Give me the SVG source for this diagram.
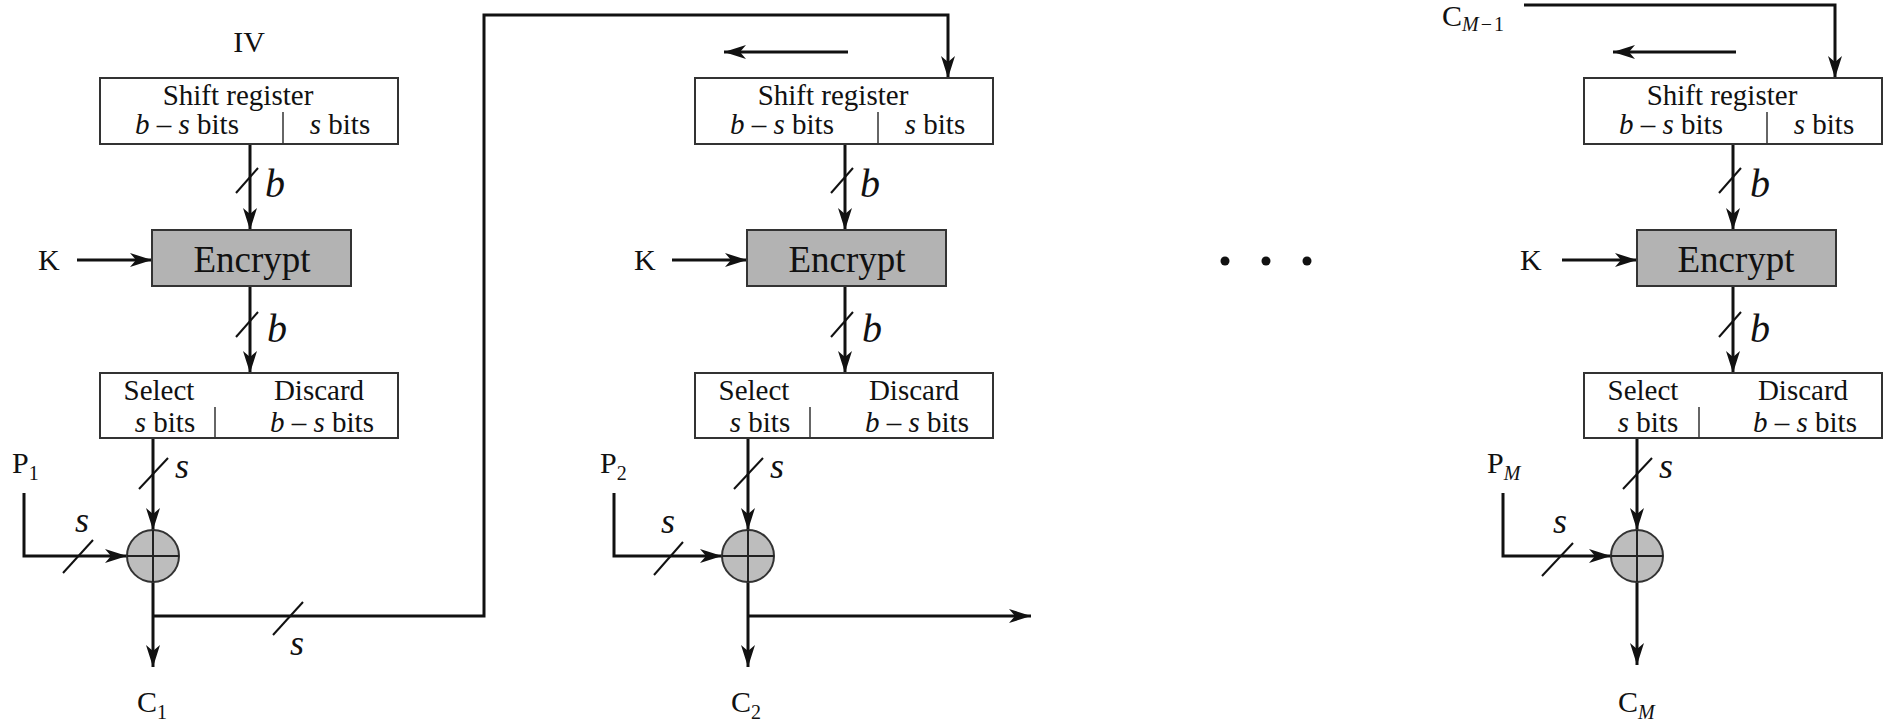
<svg xmlns="http://www.w3.org/2000/svg" width="1885" height="720" viewBox="0 0 1885 720">
<style>
.bx{fill:#fff;stroke:#333;stroke-width:2}
.enc{fill:#b3b3b3;stroke:#333;stroke-width:2}
.xor{fill:#bdbdbd;stroke:#333;stroke-width:2}
.dv{stroke:#333;stroke-width:1.5}
.ar{fill:none;stroke:#111;stroke-width:3;marker-end:url(#ah)}
.sl{stroke:#111;stroke-width:2}
.cr{stroke:#222;stroke-width:2}
text{font-family:"Liberation Serif","Times New Roman",serif;fill:#111}
.t{font-size:29px;text-anchor:middle}
.e{font-size:37px;text-anchor:middle}
.lb{font-size:30px}
.bl{font-size:40px;font-style:italic}
.sv{font-size:36px;font-style:italic}
.sub{font-size:20px}
.it{font-style:italic}
</style>
<defs>
<marker id="ah" markerUnits="userSpaceOnUse" markerWidth="22" markerHeight="14" refX="22" refY="7" orient="auto">
<path d="M0,0 L22,7 L0,14 L6,7 z" fill="#111"/>
</marker>
</defs>

<g id="connectors">
<!-- column 1 -->
<line class="ar" x1="77" y1="260" x2="152" y2="260"/>
<line class="ar" x1="250" y1="144" x2="250" y2="230"/>
<line class="sl" x1="236" y1="193" x2="258" y2="168"/>
<line class="ar" x1="250" y1="286" x2="250" y2="373"/>
<line class="sl" x1="236" y1="337" x2="258" y2="312"/>
<line class="ar" x1="153" y1="438" x2="153" y2="530"/>
<line class="sl" x1="139" y1="489" x2="168" y2="458"/>
<polyline class="ar" points="24,493 24,556 127,556"/>
<line class="sl" x1="63" y1="573" x2="93" y2="540"/>
<line class="ar" x1="153" y1="582" x2="153" y2="667"/>
<polyline class="ar" points="153,616 484,616 484,15 948,15 948,78"/>
<line class="sl" x1="273" y1="635" x2="303" y2="602"/>
<!-- column 2 -->
<line class="ar" x1="848" y1="52" x2="724" y2="52"/>
<line class="ar" x1="672" y1="260" x2="747" y2="260"/>
<line class="ar" x1="845" y1="144" x2="845" y2="230"/>
<line class="sl" x1="831" y1="193" x2="853" y2="168"/>
<line class="ar" x1="845" y1="286" x2="845" y2="373"/>
<line class="sl" x1="831" y1="337" x2="853" y2="312"/>
<line class="ar" x1="748" y1="438" x2="748" y2="530"/>
<line class="sl" x1="734" y1="489" x2="763" y2="458"/>
<polyline class="ar" points="614,493 614,556 722,556"/>
<line class="sl" x1="654" y1="575" x2="683" y2="542"/>
<line class="ar" x1="748" y1="582" x2="748" y2="667"/>
<polyline class="ar" points="748,616 1031,616"/>
<!-- column 3 -->
<polyline class="ar" points="1524,5 1835,5 1835,78"/>
<line class="ar" x1="1736" y1="52" x2="1613" y2="52"/>
<line class="ar" x1="1562" y1="260" x2="1637" y2="260"/>
<line class="ar" x1="1733" y1="144" x2="1733" y2="230"/>
<line class="sl" x1="1719" y1="193" x2="1741" y2="168"/>
<line class="ar" x1="1733" y1="286" x2="1733" y2="373"/>
<line class="sl" x1="1719" y1="337" x2="1741" y2="312"/>
<line class="ar" x1="1637" y1="438" x2="1637" y2="530"/>
<line class="sl" x1="1623" y1="489" x2="1652" y2="458"/>
<polyline class="ar" points="1503,493 1503,556 1611,556"/>
<line class="sl" x1="1542" y1="576" x2="1573" y2="543"/>
<line class="ar" x1="1637" y1="582" x2="1637" y2="665"/>
</g>

<g id="labels">
<text class="lb" x="249" y="52" text-anchor="middle">IV</text>
<text class="lb" x="38" y="270">K</text>
<text class="bl" x="265" y="197">b</text>
<text class="bl" x="267" y="342">b</text>
<text class="sv" x="175" y="478">s</text>
<text class="sv" x="75" y="532">s</text>
<text class="sv" x="290" y="655">s</text>
<text class="lb" x="12" y="473">P<tspan class="sub" dy="7">1</tspan></text>
<text class="lb" x="137" y="712">C<tspan class="sub" dy="7">1</tspan></text>

<text class="lb" x="634" y="270">K</text>
<text class="bl" x="860" y="197">b</text>
<text class="bl" x="862" y="342">b</text>
<text class="sv" x="770" y="478">s</text>
<text class="sv" x="661" y="533">s</text>
<text class="lb" x="600" y="473">P<tspan class="sub" dy="7">2</tspan></text>
<text class="lb" x="731" y="712">C<tspan class="sub" dy="7">2</tspan></text>

<text class="lb" x="1442" y="26">C<tspan class="sub it" dy="5">M</tspan><tspan class="sub" dx="2">−</tspan><tspan class="sub" dx="2">1</tspan></text>
<text class="lb" x="1520" y="270">K</text>
<text class="bl" x="1750" y="197">b</text>
<text class="bl" x="1750" y="342">b</text>
<text class="sv" x="1659" y="478">s</text>
<text class="sv" x="1553" y="533">s</text>
<text class="lb" x="1487" y="473">P<tspan class="sub it" dy="7">M</tspan></text>
<text class="lb" x="1618" y="712">C<tspan class="sub it" dy="7">M</tspan></text>
</g>

<g id="dots" fill="#111">
<circle cx="1225" cy="261" r="4.5"/>
<circle cx="1266" cy="261" r="4.5"/>
<circle cx="1307" cy="261" r="4.5"/>
</g>

<!-- column 1 nodes -->
<g id="shift1">
<rect class="bx" x="100" y="78" width="298" height="66"/>
<line class="dv" x1="283" y1="112" x2="283" y2="144"/>
<text class="t" x="238" y="105">Shift register</text>
<text class="t" x="187" y="134"><tspan class="it">b</tspan> – <tspan class="it">s</tspan> bits</text>
<text class="t" x="340" y="134"><tspan class="it">s</tspan> bits</text>
</g>
<g id="encrypt1">
<rect class="enc" x="152" y="230" width="199" height="56"/>
<text class="e" x="252" y="272">Encrypt</text>
</g>
<g id="select1">
<rect class="bx" x="100" y="373" width="298" height="65"/>
<line class="dv" x1="215" y1="407" x2="215" y2="438"/>
<text class="t" x="159" y="400">Select</text>
<text class="t" x="319" y="400">Discard</text>
<text class="t" x="165" y="432"><tspan class="it">s</tspan> bits</text>
<text class="t" x="322" y="432"><tspan class="it">b</tspan> – <tspan class="it">s</tspan> bits</text>
</g>
<g id="xor1">
<circle class="xor" cx="153" cy="556" r="26"/>
<line class="cr" x1="153" y1="530" x2="153" y2="582"/>
<line class="cr" x1="127" y1="556" x2="179" y2="556"/>
</g>

<!-- column 2 nodes -->
<g id="shift2">
<rect class="bx" x="695" y="78" width="298" height="66"/>
<line class="dv" x1="878" y1="112" x2="878" y2="144"/>
<text class="t" x="833" y="105">Shift register</text>
<text class="t" x="782" y="134"><tspan class="it">b</tspan> – <tspan class="it">s</tspan> bits</text>
<text class="t" x="935" y="134"><tspan class="it">s</tspan> bits</text>
</g>
<g id="encrypt2">
<rect class="enc" x="747" y="230" width="199" height="56"/>
<text class="e" x="847" y="272">Encrypt</text>
</g>
<g id="select2">
<rect class="bx" x="695" y="373" width="298" height="65"/>
<line class="dv" x1="810" y1="407" x2="810" y2="438"/>
<text class="t" x="754" y="400">Select</text>
<text class="t" x="914" y="400">Discard</text>
<text class="t" x="760" y="432"><tspan class="it">s</tspan> bits</text>
<text class="t" x="917" y="432"><tspan class="it">b</tspan> – <tspan class="it">s</tspan> bits</text>
</g>
<g id="xor2">
<circle class="xor" cx="748" cy="556" r="26"/>
<line class="cr" x1="748" y1="530" x2="748" y2="582"/>
<line class="cr" x1="722" y1="556" x2="774" y2="556"/>
</g>

<!-- column 3 nodes -->
<g id="shift3">
<rect class="bx" x="1584" y="78" width="298" height="66"/>
<line class="dv" x1="1767" y1="112" x2="1767" y2="144"/>
<text class="t" x="1722" y="105">Shift register</text>
<text class="t" x="1671" y="134"><tspan class="it">b</tspan> – <tspan class="it">s</tspan> bits</text>
<text class="t" x="1824" y="134"><tspan class="it">s</tspan> bits</text>
</g>
<g id="encrypt3">
<rect class="enc" x="1637" y="230" width="199" height="56"/>
<text class="e" x="1736" y="272">Encrypt</text>
</g>
<g id="select3">
<rect class="bx" x="1584" y="373" width="298" height="65"/>
<line class="dv" x1="1699" y1="407" x2="1699" y2="438"/>
<text class="t" x="1643" y="400">Select</text>
<text class="t" x="1803" y="400">Discard</text>
<text class="t" x="1648" y="432"><tspan class="it">s</tspan> bits</text>
<text class="t" x="1805" y="432"><tspan class="it">b</tspan> – <tspan class="it">s</tspan> bits</text>
</g>
<g id="xor3">
<circle class="xor" cx="1637" cy="556" r="26"/>
<line class="cr" x1="1637" y1="530" x2="1637" y2="582"/>
<line class="cr" x1="1611" y1="556" x2="1663" y2="556"/>
</g>
</svg>
